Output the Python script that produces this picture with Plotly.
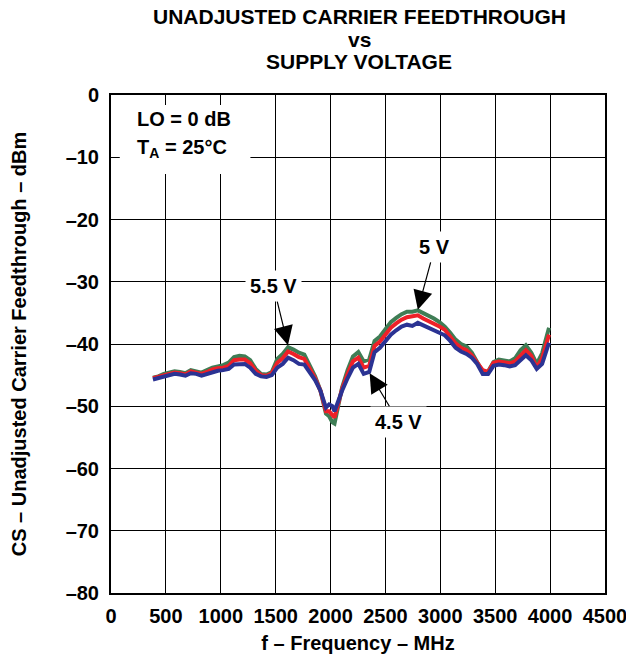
import plotly.graph_objects as go

# ---------------- data ----------------
freq_mhz = [382, 431, 481, 530, 579, 628, 678, 727, 776, 825, 874, 924, 973, 1022, 1072, 1121,
            1170, 1219, 1268, 1318, 1367, 1416, 1465, 1515, 1564, 1613, 1662, 1712, 1761, 1810,
            1859, 1908, 1958, 1987, 2017, 2036, 2056, 2105, 2155, 2204, 2253, 2302, 2352, 2401,
            2450, 2499, 2549, 2598, 2647, 2696, 2745, 2795, 2844, 2893, 2942, 2992, 3041, 3090,
            3139, 3188, 3238, 3287, 3336, 3386, 3435, 3484, 3533, 3582, 3632, 3681, 3730, 3779,
            3829, 3878, 3927, 3990]

cs_5v5 = [-45.4, -45.2, -44.8, -44.6, -44.4, -44.5, -44.7, -44.2, -44.4, -44.6, -44.2, -43.8,
          -43.6, -43.4, -43.0, -42.1, -41.9, -42.0, -42.6, -44.0, -44.8, -44.9, -44.5, -42.4,
          -41.6, -40.5, -40.9, -41.4, -41.7, -43.5, -45.2, -47.5, -51.2, -51.6, -52.6, -52.8,
          -51.0, -47.0, -44.2, -42.0, -41.3, -42.8, -42.5, -39.5, -38.8, -37.6, -36.5, -35.8,
          -35.2, -34.8, -34.8, -34.6, -35.0, -35.5, -35.9, -36.5, -37.2, -38.2, -39.3, -40.0,
          -40.4, -41.4, -42.8, -44.5, -44.4, -42.9, -42.5, -42.6, -42.8, -42.3, -41.0, -40.2,
          -41.4, -43.2, -41.5, -37.4]

cs_5v0 = [-45.5, -45.3, -45.0, -44.8, -44.6, -44.7, -44.9, -44.4, -44.6, -44.8, -44.5, -44.1,
          -43.9, -43.8, -43.5, -42.6, -42.5, -42.5, -43.1, -44.3, -45.0, -45.1, -44.7, -43.0,
          -42.3, -41.2, -41.6, -42.1, -42.4, -44.0, -45.5, -47.5, -50.8, -50.8, -51.5, -51.8,
          -50.5, -47.2, -44.8, -42.8, -42.2, -43.8, -43.5, -40.3, -39.6, -38.4, -37.4, -36.7,
          -36.1, -35.7, -35.6, -35.4, -35.9, -36.3, -36.7, -37.2, -37.7, -38.8, -39.9, -40.6,
          -41.0, -41.8, -43.0, -44.2, -44.5, -43.0, -42.8, -43.0, -43.1, -42.8, -41.8, -41.0,
          -41.9, -43.8, -42.3, -38.5]

cs_4v5 = [-45.7, -45.5, -45.2, -45.0, -44.8, -44.9, -45.1, -44.7, -44.8, -45.1, -44.8, -44.5,
          -44.3, -44.2, -44.0, -43.3, -43.2, -43.2, -43.8, -44.8, -45.2, -45.3, -45.0, -43.8,
          -43.2, -42.2, -42.6, -43.2, -43.3, -44.6, -45.8, -47.5, -50.2, -49.7, -50.0, -50.8,
          -49.8, -47.5, -45.5, -43.8, -43.2, -44.8, -44.5, -41.3, -40.6, -39.5, -38.5, -37.8,
          -37.2, -36.9, -37.1, -36.6, -37.0, -37.5, -37.8, -38.2, -38.6, -39.5, -40.6, -41.2,
          -41.6, -42.2, -43.2, -44.8, -44.8, -43.5, -43.3, -43.4, -43.6, -43.4, -42.5, -41.8,
          -42.6, -44.0, -43.2, -39.8]

x_ticks = [0, 500, 1000, 1500, 2000, 2500, 3000, 3500, 4000, 4500]
x_tick_labels = ["0", "500", "1000", "1500", "2000", "2500", "3000", "3500", "4000", "4500"]
y_ticks = [0, -10, -20, -30, -40, -50, -60, -70, -80]
y_tick_labels = ["0", "–10", "–20", "–30", "–40", "–50", "–60", "–70", "–80"]

series_names = ["5.5 V", "5 V", "4.5 V"]
series_values = [cs_5v5, cs_5v0, cs_4v5]
series_colors = ["#3f7d55", "#ee2028", "#2b3393"]

# callouts: (text, text_x, text_y, tip_x, tip_y) in data units
callouts = [
    ("5.5 V", 1480, -30.7, 1612, -40.2),
    ("5 V", 2950, -24.4, 2795, -34.5),
    ("4.5 V", 2620, -52.5, 2356, -44.7),
]

title_lines = ["UNADJUSTED CARRIER FEEDTHROUGH", "vs", "SUPPLY VOLTAGE"]

FONT = "Liberation Sans, Arial, Helvetica, sans-serif"
FS = 20

# page has an 8px body margin; plot area in the window: x 111..605, y 95..593
W, H = 626, 646
ML, MT = 103, 87
PW, PH = 494, 498
MR, MB = W - ML - PW, H - MT - PH


def bold(size):
    return dict(family=FONT, size=size, color="black", weight="bold")


def py(y_win):
    return 1 - (y_win - 95) / PH


def px(x_win):
    return (x_win - 111) / PW


fig = go.Figure()
for name, vals, col in zip(series_names, series_values, series_colors):
    fig.add_trace(go.Scatter(x=freq_mhz, y=vals, mode="lines", name=name,
                             line=dict(color=col, width=4), showlegend=False))

# white box behind condition text
fig.add_shape(type="rect", xref="x", yref="y", x0=80, x1=1270, y0=-1.6, y1=-12.7,
              fillcolor="white", line=dict(width=0), layer="between")

annos = []
for txt, tx, ty, tipx, tipy in callouts:
    annos.append(dict(x=tipx, y=tipy, ax=tx, ay=ty, xref="x", yref="y", axref="x", ayref="y",
                      text=txt, showarrow=True, arrowhead=2, arrowsize=3.2, arrowwidth=1.2,
                      arrowcolor="black", bgcolor="white", borderpad=4, font=bold(FS)))

annos.append(dict(x=218, y=-3.9, xref="x", yref="y", xanchor="left", text="LO = 0 dB",
                  showarrow=False, font=bold(FS)))
annos.append(dict(x=218, y=-8.6, xref="x", yref="y", xanchor="left",
                  text="T<sub>A</sub> = 25°C", showarrow=False, font=bold(FS)))

for txt, yy in zip(title_lines, [16, 39, 61]):
    annos.append(dict(x=px(359), y=py(yy), xref="paper", yref="paper", text=txt,
                      showarrow=False, xanchor="center", yanchor="middle", height=20,
                      borderpad=0, font=bold(21)))

fig.update_layout(
    width=W, height=H,
    margin=dict(l=ML, r=MR, t=MT, b=MB, autoexpand=False),
    paper_bgcolor="white", plot_bgcolor="white",
    font=dict(family=FONT, color="black"),
    annotations=annos,
)
fig.update_xaxes(range=[0, 4500], tickvals=x_ticks, ticktext=x_tick_labels,
                 showgrid=True, gridcolor="black", gridwidth=1,
                 showline=True, linecolor="black", linewidth=2, mirror=True,
                 ticks="", zeroline=False, automargin=False, ticklabelstandoff=4,
                 tickfont=bold(FS),
                 title=dict(text="f – Frequency – MHz", standoff=12, font=bold(FS)))
fig.update_yaxes(range=[-80, 0], tickvals=y_ticks, ticktext=y_tick_labels,
                 showgrid=True, gridcolor="black", gridwidth=1,
                 showline=True, linecolor="black", linewidth=2, mirror=True,
                 ticks="", zeroline=False, automargin=False, ticklabelstandoff=6,
                 tickfont=bold(FS),
                 title=dict(text="CS – Unadjusted Carrier Feedthrough – dBm", standoff=40,
                            font=bold(FS)))

fig.write_html("out.html")
